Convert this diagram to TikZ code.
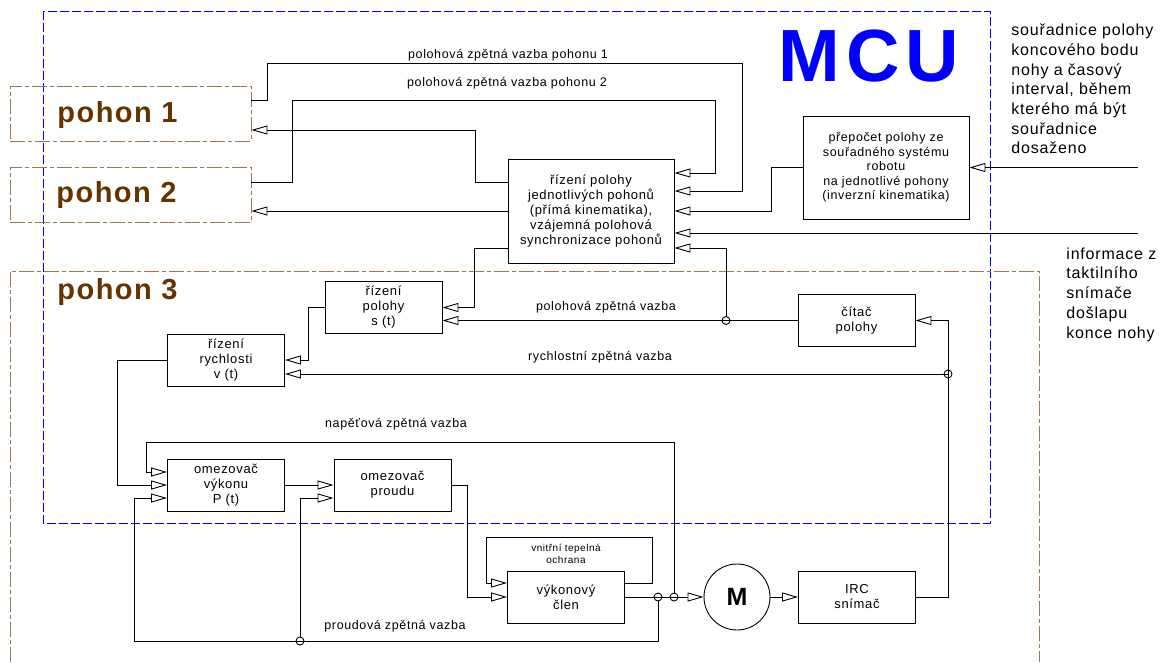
\documentclass[tikz,border=0pt]{standalone}
\usepackage{fontspec}
\setmainfont{Liberation Sans}[LetterSpace=5]
\usetikzlibrary{arrows.meta,calc}

\definecolor{mcumodra}{RGB}{0,0,255}
\definecolor{pohonhneda}{RGB}{102,51,0}
\definecolor{pohonlinka}{RGB}{155,120,85}

\begin{document}
\begin{tikzpicture}[
    x=1pt,y=-1pt,
    line width=0.9pt,
    blok/.style={draw,align=center,minimum width=117pt,minimum height=52pt,inner sep=1pt,font=\fontsize{13}{15}\selectfont},
    pohonbox/.style={draw=pohonlinka,dash pattern=on 15pt off 3pt on 4pt off 3pt,minimum width=241pt,minimum height=55pt},
    pohontext/.style={font=\fontsize{29}{32}\selectfont\bfseries,text=pohonhneda,inner sep=0pt,anchor=west},
    popis/.style={font=\fontsize{12.5}{15}\selectfont,inner sep=0pt},
    vstup/.style={font=\fontsize{16}{19.7}\selectfont,align=left,inner sep=0pt,anchor=west},
    uzel/.style={draw,circle,inner sep=0pt,minimum size=8pt},
    >={Triangle[open,length=16pt,width=9pt]}
  ]
  \useasboundingbox (0,0) rectangle (1167,662);

  % ramy MCU a pohonu 3
  \draw[mcumodra,dash pattern=on 9pt off 3pt] (43,11) rectangle (990,523);
  \node[font=\fontsize{74}{80}\selectfont\bfseries\addfontfeature{LetterSpace=8},text=mcumodra] (mcu) at (869,56) {MCU};
  \draw[pohonlinka,dash pattern=on 15pt off 3pt on 4pt off 3pt] (10,662) |- (1039,271) -- (1039,662);
  \node[pohontext] (p3text) at (57,292) {pohon 3};

  % pohony 1 a 2
  \node[pohonbox] (pohon1) at (130.5,113.5) {};
  \node[pohontext] (p1text) at (57,115) {pohon 1};
  \node[pohonbox] (pohon2) at (130.5,194.5) {};
  \node[pohontext] (p2text) at (56,195) {pohon 2};

  % bloky
  \node[blok,minimum width=166pt,minimum height=104pt] (rizeni) at (591,211) {řízení polohy\\jednotlivých pohonů\\(přímá kinematika),\\vzájemná polohová\\synchronizace pohonů};
  \node[blok,minimum width=166pt,minimum height=103pt,font=\fontsize{12.5}{14.6}\selectfont] (prepocet) at (886,167.5) {přepočet polohy ze\\souřadného systému\\robotu\\na jednotlivé pohony\\(inverzní kinematika)};
  \node[blok] (polohaS) at (383.5,307.5) {řízení\\polohy\\s (t)};
  \node[blok] (rychlost) at (226,360) {řízení\\rychlosti\\v (t)};
  \node[blok] (citac) at (856.5,320.5) {čítač\\polohy};
  \node[blok] (omezVykon) at (226,485) {omezovač\\výkonu\\P (t)};
  \node[blok] (omezProud) at (392.5,485) {omezovač\\proudu};
  \node[blok] (vykonClen) at (566,597) {výkonový\\člen};
  \node[draw,circle,minimum size=66pt,inner sep=0pt,font=\fontsize{25}{25}\selectfont\bfseries] (motor) at (737,597) {M};
  \node[blok] (irc) at (857,597) {IRC\\snímač};

  % uzly
  \node[uzel] (j1) at (726,320.5) {};
  \node[uzel] (j2) at (948,374) {};
  \node[uzel] (j3) at (674,597) {};
  \node[uzel] (j4) at (658,597) {};
  \node[uzel] (j5) at (300,641) {};
  \coordinate (vstupA) at (1138,167.5);
  \coordinate (vstupB) at (1138,233);

  % texty
  \node[popis] (lblp1) at (508,55) {polohová zpětná vazba pohonu 1};
  \node[popis] (lblp2) at (507,83) {polohová zpětná vazba pohonu 2};
  \node[popis] (lblpol) at (606,307) {polohová zpětná vazba};
  \node[popis] (lblrych) at (600,357) {rychlostní zpětná vazba};
  \node[popis] (lblnap) at (396,424) {napěťová zpětná vazba};
  \node[popis] (lblproud) at (395,626) {proudová zpětná vazba};
  \node[popis,font=\fontsize{10}{12}\selectfont,align=center] (lbltep) at (566,554) {vnitřní tepelná\\ochrana};
  \node[vstup] (txtsour) at (1011,89) {souřadnice polohy\\koncového bodu\\nohy a časový\\interval, během\\kterého má být\\souřadnice\\dosaženo};
  \node[vstup] (txtinfo) at (1066,294.5) {informace z\\taktilního\\snímače\\došlapu\\konce nohy};

  % spoje
  \draw[->] ($(pohon1.east)+(0,-13.5)$) -| (267,63) -| (742,191) -- ($(rizeni.east)+(0,-20)$);
  \draw[->] ($(pohon2.east)+(0,-12.5)$) -| (292,100) -| (715,173) -- ($(rizeni.east)+(0,-38)$);
  \draw[->] ($(rizeni.west)+(0,-29)$) -| (475,130) -- ($(pohon1.east)+(0,16.5)$);
  \draw[->] (rizeni.west) -- (rizeni.west -| pohon2.east);
  \draw[->] ($(rizeni.west)+(0,37)$) -- ++(-33,0) |- (polohaS.east);
  \draw[->] (prepocet.west) -- ++(-31,0) |- (rizeni.east);
  \draw[->] (vstupA) -- (prepocet.east);
  \draw[->] (vstupB) -- (vstupB -| rizeni.east);
  \draw[->] (citac.west) -- (j1.center) -- (j1.center -| polohaS.east);
  \draw[->] (j1.north) |- ($(rizeni.east)+(0,37)$);
  \draw[->] (irc.east) -| (j2.center) |- (citac.east);
  \draw[->] (j2.center) -- (j2.center -| rychlost.east);
  \draw[->] (polohaS.west) -- ++(-16,0) |- (rychlost.east);
  \draw[->] (rychlost.west) -- ++(-50,0) |- (omezVykon.west);
  \draw[->] (j3.north) |- (146,442) |- ($(omezVykon.west)+(0,-13)$);
  \draw[->] (omezVykon.east) -- (omezProud.west);
  \draw[->] (omezProud.east) -- ++(16,0) |- (vykonClen.west);
  \draw[->] ($(vykonClen.east)+(0,-14)$) -- ++(27,0) |- (486,537) |- ($(vykonClen.west)+(0,-14)$);
  \draw[->] (vykonClen.east) -- (motor.west);
  \draw[->] (motor.east) -- (irc.west);
  \draw[->] (j4.south) |- (134,641) |- ($(omezVykon.west)+(0,13)$);
  \draw[->] (j5.north) |- ($(omezProud.west)+(0,13)$);
\end{tikzpicture}
\end{document}
